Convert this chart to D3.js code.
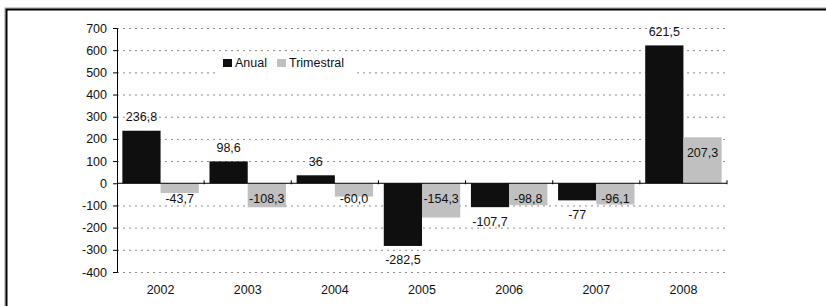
<!DOCTYPE html>
<html>
<head>
<meta charset="utf-8">
<script src="https://cdn.jsdelivr.net/npm/d3@7"></script>
<style>
  body { margin: 0; background: #fff; }
  svg { display: block; font-family: "Liberation Sans", Arial, sans-serif; }
  .grid line { stroke: #8c8c8c; stroke-dasharray: 2,4; }
  .grid .domain { display: none; }
  .axis text { font-size: 12.5px; fill: #111; }
</style>
</head>
<body>
<div class="graph"></div>
<script>
// chart data
var years = ["2002", "2003", "2004", "2005", "2006", "2007", "2008"];
var series = ["Anual", "Trimestral"];
var anual = [236.8, 98.6, 36, -282.5, -107.7, -77, 621.5];
var trimestral = [-43.7, -108.3, -60.0, -154.3, -98.8, -96.1, 207.3];
var anualLabels = ["236,8", "98,6", "36", "-282,5", "-107,7", "-77", "621,5"];
var trimLabels = ["-43,7", "-108,3", "-60,0", "-154,3", "-98,8", "-96,1", "207,3"];
var yTicks = [-400, -300, -200, -100, 0, 100, 200, 300, 400, 500, 600, 700];

var W = 826, H = 306;
// plot area (window.top is reserved, so use a box object)
var plot = {left: 117, right: 727, top: 28, bottom: 272};

var svg = d3.select(".graph").append("svg")
    .attr("width", W)
    .attr("height", H);

// outer frame (cropped on the right and bottom)
svg.append("rect")
    .attr("x", 5).attr("y", 8)
    .attr("width", 900).attr("height", 400)
    .attr("fill", "none").attr("stroke", "#9a9a9a").attr("stroke-width", 1);
svg.append("rect")
    .attr("x", 6.5).attr("y", 9.5)
    .attr("width", 900).attr("height", 400)
    .attr("fill", "none").attr("stroke", "#000").attr("stroke-width", 2);

var x0 = d3.scaleBand().domain(years).range([plot.left, plot.right]).padding(0);
var x1 = d3.scaleBand().domain(series).range([0, x0.bandwidth()])
    .paddingInner(0).paddingOuter(0.14);
var y = d3.scaleLinear().domain([-400, 700]).range([plot.bottom, plot.top]);
var colors = {Anual: "#0f0f0f", Trimestral: "#c0c0c0"};

// gridlines
svg.append("g")
    .attr("class", "grid")
    .attr("transform", "translate(" + plot.left + ",0)")
    .call(d3.axisRight(y).tickValues(yTicks.filter(function(d) { return d !== 0; }))
        .tickSize(plot.right - plot.left).tickFormat(""));

// legend background hides the gridline behind it
svg.append("rect")
    .attr("x", 219).attr("y", 53).attr("width", 134).attr("height", 22)
    .attr("fill", "#fff");

var rows = years.map(function(yr, i) {
    return {year: yr, vals: [
        {key: "Anual", v: anual[i], label: anualLabels[i]},
        {key: "Trimestral", v: trimestral[i], label: trimLabels[i]}
    ]};
});

var group = svg.selectAll(".yr")
    .data(rows)
    .enter().append("g")
    .attr("class", "yr")
    .attr("transform", function(d) { return "translate(" + x0(d.year) + ",0)"; });

group.selectAll("rect")
    .data(function(d) { return d.vals; })
    .enter().append("rect")
    .attr("x", function(d) { return x1(d.key); })
    .attr("width", x1.bandwidth())
    .attr("y", function(d) { return y(Math.max(0, d.v)); })
    .attr("height", function(d) { return Math.abs(y(d.v) - y(0)); })
    .attr("fill", function(d) { return colors[d.key]; });

// data labels
group.selectAll("text")
    .data(function(d) { return d.vals; })
    .enter().append("text")
    .attr("x", function(d) { return x1(d.key) + x1.bandwidth() / 2; })
    .attr("y", function(d) {
        if (d.key === "Anual") {
            return d.v >= 0 ? y(d.v) - 14 : y(d.v) + 14;
        }
        return y(Math.max(0, d.v)) + 15;
    })
    .attr("dy", "0.35em")
    .attr("text-anchor", "middle")
    .style("font-size", "12.5px")
    .attr("fill", "#111")
    .text(function(d) { return d.label; });

// zero line with category ticks
var xAxis = svg.append("g")
    .attr("class", "axis")
    .attr("transform", "translate(0," + y(0) + ")")
    .call(d3.axisBottom(x0).tickSize(0).tickFormat(""));
xAxis.select(".domain").attr("stroke", "#000").attr("d", "M" + plot.left + ",0H" + plot.right);
xAxis.selectAll(".sep")
    .data(years.slice(1).concat(["end"]))
    .enter().append("line")
    .attr("class", "sep")
    .attr("x1", function(d, i) { return plot.left + x0.step() * (i + 1); })
    .attr("x2", function(d, i) { return plot.left + x0.step() * (i + 1); })
    .attr("y1", -3).attr("y2", 1)
    .attr("stroke", "#000");

// year labels along the bottom
svg.append("g")
    .attr("class", "axis")
    .attr("transform", "translate(0," + plot.bottom + ")")
    .call(d3.axisBottom(x0).tickSize(0).tickPadding(13))
    .select(".domain").remove();

// y axis, plain hyphen for negatives as in the original
svg.append("g")
    .attr("class", "axis")
    .attr("transform", "translate(" + plot.left + ",0)")
    .call(d3.axisLeft(y).tickValues(yTicks).tickSize(4).tickPadding(6)
        .tickFormat(function(d) { return String(d); }))
    .selectAll("line, path").attr("stroke", "#000");

// legend
var legend = svg.append("g").attr("transform", "translate(223,59)");
var lx = [0, 54];
series.forEach(function(s, i) {
    legend.append("rect")
        .attr("x", lx[i]).attr("y", 0)
        .attr("width", 9).attr("height", 8)
        .attr("fill", colors[s]);
    legend.append("text")
        .attr("x", lx[i] + 12).attr("y", 4)
        .attr("dy", "0.35em")
        .style("font-size", "12.5px")
        .attr("fill", "#111")
        .text(s);
});
</script>
</body>
</html>
